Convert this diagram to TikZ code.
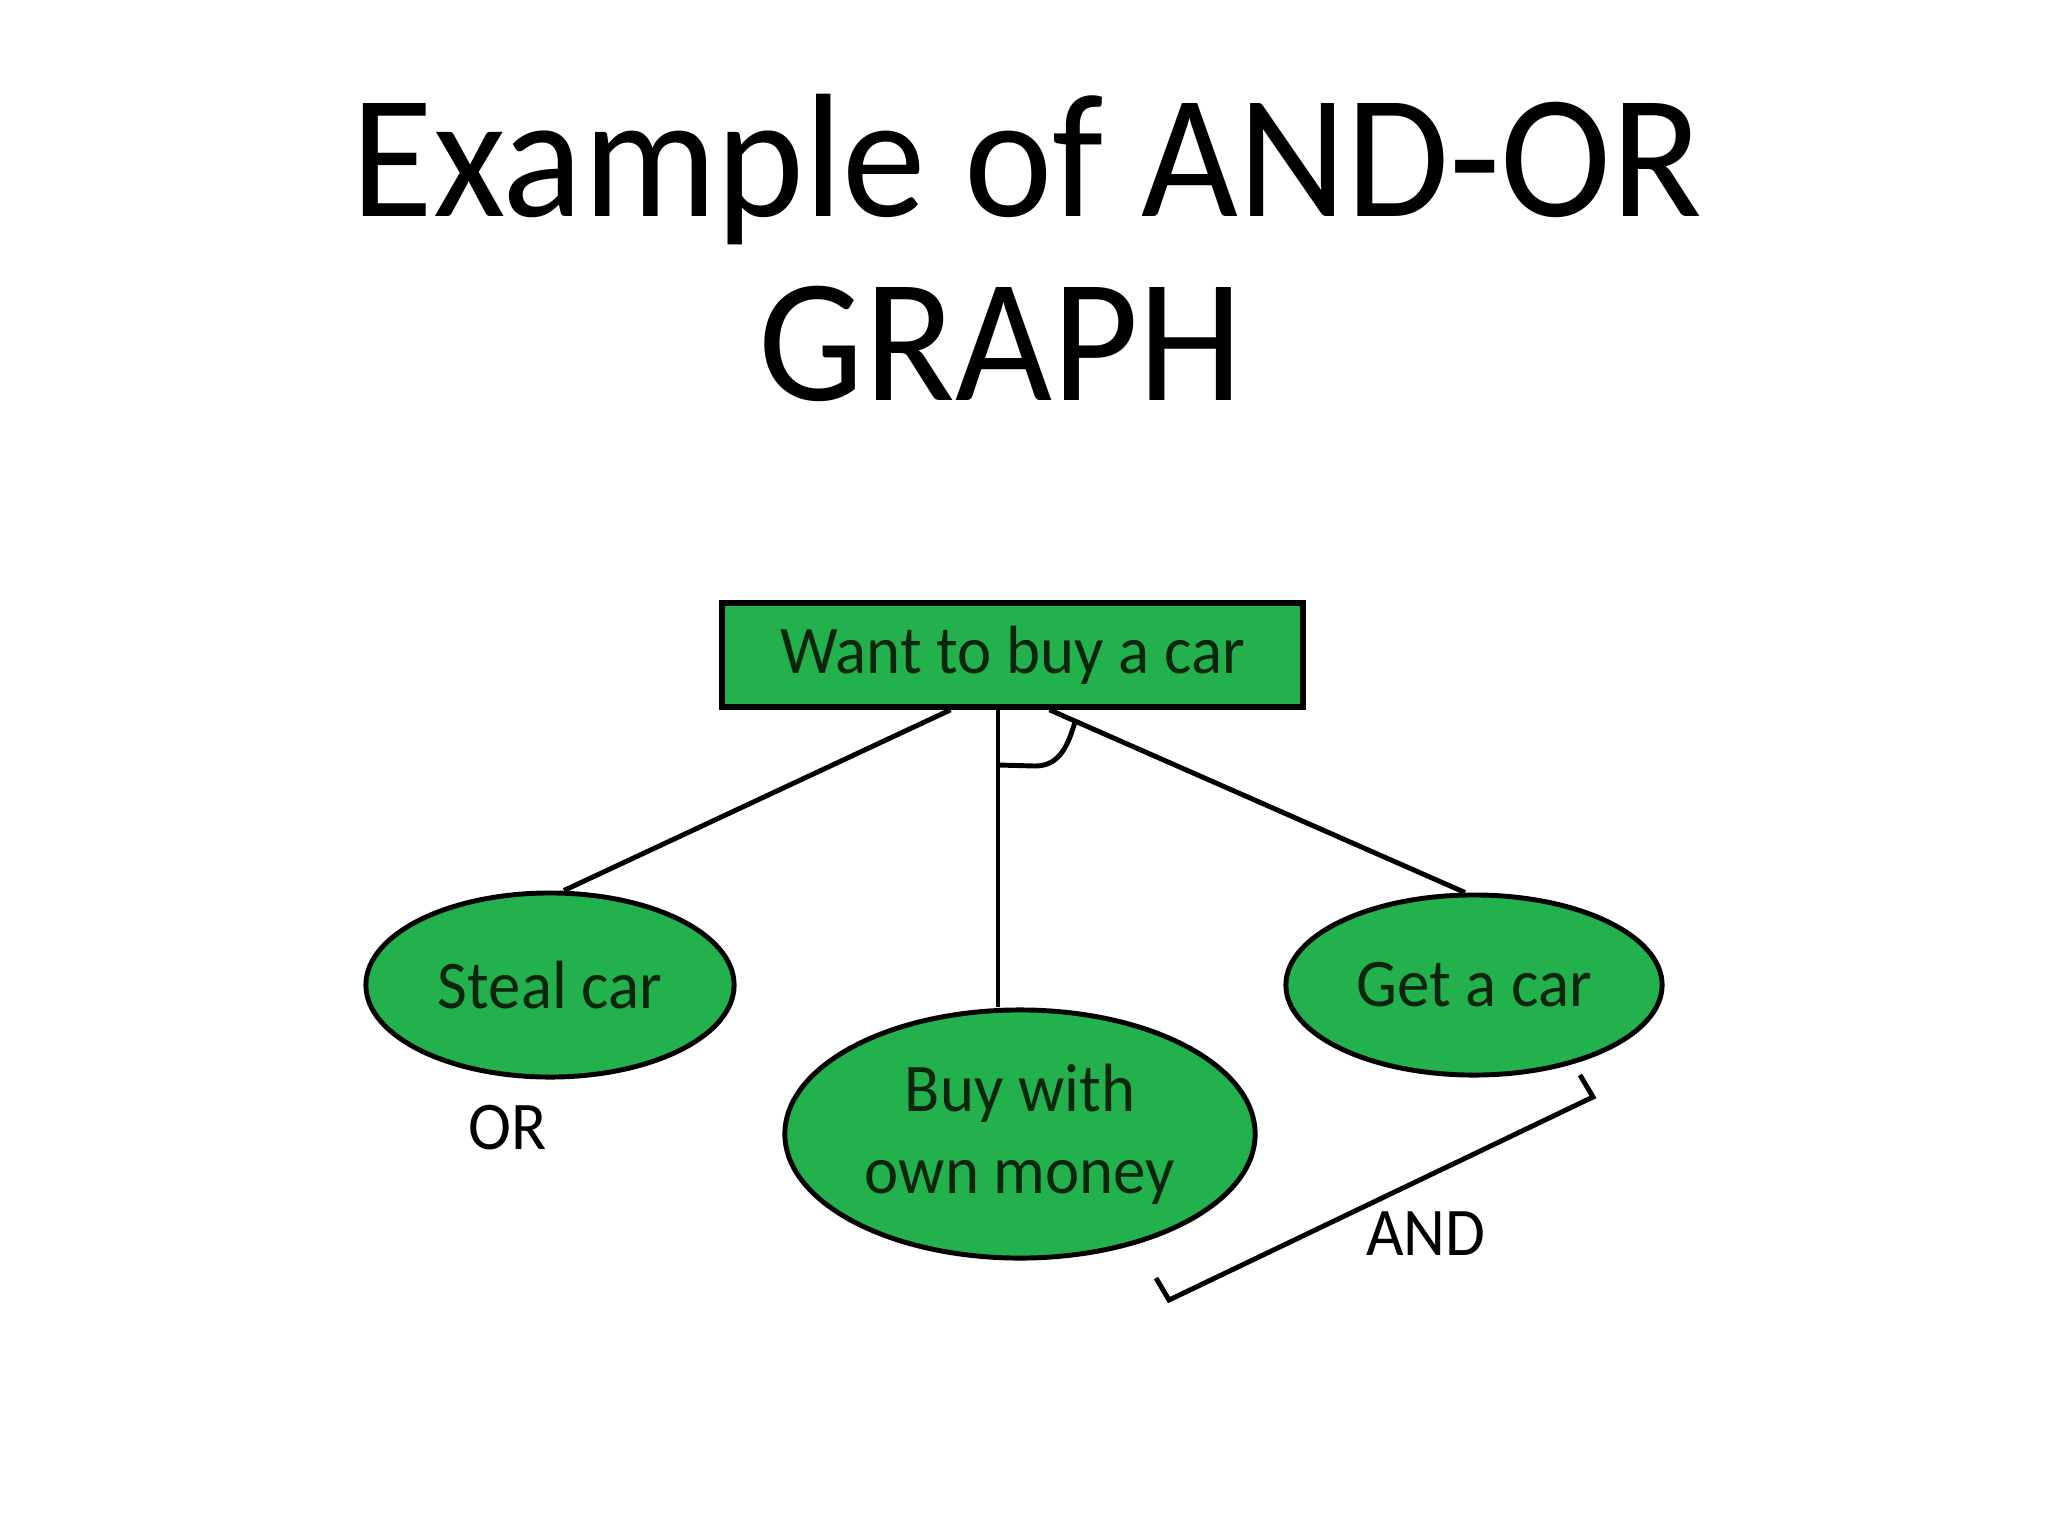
\documentclass[tikz,border=0pt]{standalone}
\usepackage{fontspec}
\setmainfont{Carlito}[FakeStretch=0.95]
\usetikzlibrary{shapes.geometric,calc}
\definecolor{paintgreen}{RGB}{34,177,76}
\definecolor{nodetext}{RGB}{12,38,14}
\begin{document}
\begin{tikzpicture}[x=0.01cm,y=-0.01cm,
  goal/.style={draw=black,line width=1.6pt,fill=paintgreen,minimum width=5.81cm,minimum height=1.04cm,inner sep=0pt,text=nodetext,font=\fontsize{19.4pt}{23.3pt}\selectfont},
  subgoal/.style={ellipse,draw=black,line width=1.4pt,fill=paintgreen,inner sep=0pt},
  inside/.style={text=nodetext,font=\fontsize{19.4pt}{23.3pt}\selectfont,align=center},
  link/.style={line width=1.4pt,draw=black},
  tag/.style={font=\fontsize{19.4pt}{23.3pt}\selectfont,text=black},
  title/.style={font=\fontsize{50.1pt}{52pt}\selectfont,anchor=base,inner sep=0pt}]
\useasboundingbox (0,0) rectangle (2048,1536);
\fill[white] (0,0) rectangle (2048,1536);
\node[title] (t1) at (1027,216) {Example of AND-OR};
\node[title] (t2) at (1001,400) {GRAPH};
\node[goal] (want) at (1012.5,655) {Want to buy a car};
\node[subgoal,minimum width=3.68cm,minimum height=1.84cm,label={[inside]center:Steal car}] (steal) at (550,985) {};
\node[subgoal,minimum width=4.70cm,minimum height=2.48cm,label={[inside]center:Buy with\\own money}] (buy) at (1020,1134) {};
\node[subgoal,minimum width=3.76cm,minimum height=1.80cm,label={[inside]center:Get a car}] (get) at (1474,985) {};
\draw[link] ($(want.south)+(-62,0)$) -- ($(steal.north)+(14,0)$);
\coordinate (mtop) at ($(want.south)+(-14.5,0)$);
\draw[link] (mtop) -- (mtop |- buy.north);
\draw[link] ($(want.south)+(37,0)$) -- ($(get.north)+(-9,0)$);
\draw[link] (998,765) -- (1035,766) .. controls (1060,766) and (1068,745) .. (1075,722);
\draw[link,line join=miter] (1580,1075) -- (1593,1097) -- (1169,1300) -- (1156,1278);
\node[tag] (orlab) at (508,1128) {OR};
\node[tag] (andlab) at (1426,1234) {AND};
\end{tikzpicture}
\end{document}
